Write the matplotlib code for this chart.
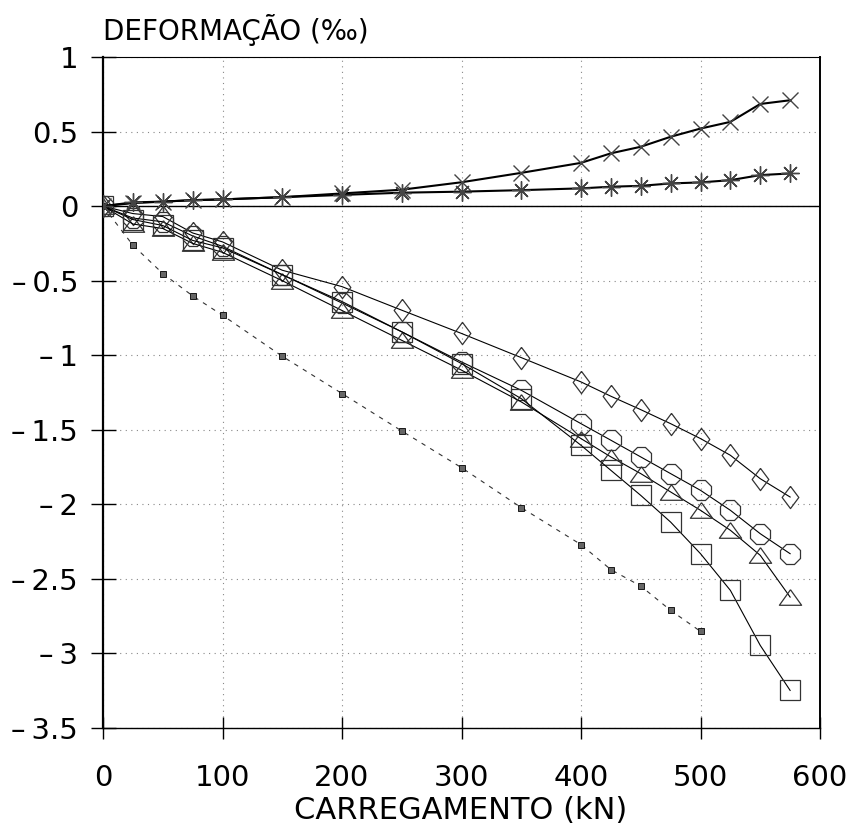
import matplotlib
matplotlib.use("Agg")
import matplotlib.pyplot as plt
from matplotlib.ticker import FuncFormatter

plt.rcParams['font.family'] = ['DejaVu Sans']

loads = [0, 25, 50, 75, 100, 150, 200, 250, 300, 350, 400, 425, 450, 475, 500, 525, 550, 575]
series_x = [0, 0.02, 0.03, 0.04, 0.045, 0.06, 0.085, 0.11, 0.16, 0.223, 0.29, 0.354, 0.398,
            0.465, 0.52, 0.565, 0.685, 0.71]
series_star = [0, 0.025, 0.03, 0.04, 0.045, 0.06, 0.075, 0.09, 0.097, 0.107, 0.119, 0.13,
               0.136, 0.152, 0.159, 0.174, 0.208, 0.219]
series_diamond = [0, -0.05, -0.07, -0.18, -0.24, -0.43, -0.54, -0.698, -0.854, -1.016, -1.179,
                  -1.275, -1.365, -1.459, -1.559, -1.671, -1.828, -1.951]
series_circle = [0, -0.08, -0.105, -0.2, -0.27, -0.46, -0.65, -0.843, -1.045, -1.235, -1.459,
                 -1.57, -1.682, -1.794, -1.906, -2.04, -2.197, -2.331]
series_triangle = [0, -0.12, -0.15, -0.25, -0.31, -0.5, -0.70, -0.90, -1.10, -1.313, -1.559,
                   -1.682, -1.794, -1.917, -2.04, -2.174, -2.342, -2.622]
series_square = [0, -0.09, -0.13, -0.23, -0.28, -0.46, -0.64, -0.843, -1.056, -1.291, -1.604,
                 -1.772, -1.94, -2.119, -2.331, -2.577, -2.946, -3.248]
loads_dashed = [0, 25, 50, 75, 100, 150, 200, 250, 300, 350, 400, 425, 450, 475, 500]
series_dashed = [0, -0.262, -0.452, -0.602, -0.732, -1.007, -1.257, -1.508, -1.754, -2.022,
                 -2.27, -2.438, -2.548, -2.711, -2.852]

x_ticks = [0, 100, 200, 300, 400, 500, 600]
y_ticks = [1, 0.5, 0, -0.5, -1, -1.5, -2, -2.5, -3, -3.5]

fig = plt.figure(figsize=(8.51, 8.24), dpi=100)
ax = fig.add_axes([103/851, 1 - 728/824, (820 - 103)/851, (728 - 57)/824])

ax.set_xlim(0, 600)
ax.set_ylim(-3.5, 1)
ax.set_xticks(x_ticks)
ax.set_yticks(y_ticks)

ax.grid(True, linestyle=(0, (1, 4)), color='#888888', linewidth=0.8)
ax.axhline(0, color='black', linewidth=1.0, zorder=2)

tri = [(0, 0.7), (-1, -0.7), (1, -0.7), (0, 0.7)]
dia = [(0, 1), (0.75, 0), (0, -1), (-0.75, 0), (0, 1)]

mk_edge = '#333333'
ax.plot(loads, series_x, color='black', lw=1.5, marker='x', ms=12, mec='#444444', mew=1.0, zorder=4)
ax.plot(loads, series_star, color='black', lw=1.5, marker=(8, 2, 0), ms=13, mec='#444444', mew=1.0, zorder=4)
ax.plot(loads, series_diamond, color='black', lw=0.8, marker=dia, ms=16, mfc='none', mec=mk_edge, mew=0.9, zorder=3)
ax.plot(loads, series_circle, color='black', lw=0.8, marker='8', ms=16, mfc='none', mec=mk_edge, mew=0.9, zorder=3)
ax.plot(loads, series_triangle, color='black', lw=0.8, marker=tri, ms=16, mfc='none', mec=mk_edge, mew=0.9, zorder=3)
ax.plot(loads, series_square, color='black', lw=0.8, marker='s', ms=14, mfc='none', mec=mk_edge, mew=0.9, zorder=3)
ax.plot(loads_dashed, series_dashed, color='#333333', lw=0.8, linestyle=(0, (4, 5)), marker='s', ms=4.5,
        mfc='#666666', mec='black', mew=0.6, zorder=3)

for s in ax.spines.values():
    s.set_color('black')
ax.spines['left'].set_linewidth(1.6)
ax.spines['right'].set_linewidth(1.4)
ax.spines['top'].set_linewidth(0.8)
ax.spines['bottom'].set_linewidth(1.0)


def yfmt(v, pos):
    if abs(v) < 1e-9:
        return '0'
    s = ('%g' % abs(v))
    return ('\u2013\u2009' + s) if v < 0 else s


ax.yaxis.set_major_formatter(FuncFormatter(yfmt))
ax.tick_params(axis='y', direction='inout', length=18, width=1.0, pad=9, labelsize=21)
ax.tick_params(axis='x', direction='inout', length=16, width=1.0, pad=18, labelsize=21)

fig.text(103/851, 1 - 40/824, 'DEFORMAÇÃO (‰)', fontsize=20, ha='left', va='baseline')
fig.text(461/851, 1 - 819/824, 'CARREGAMENTO (kN)', fontsize=22, ha='center', va='baseline')

fig.savefig('out.png', dpi=100)
